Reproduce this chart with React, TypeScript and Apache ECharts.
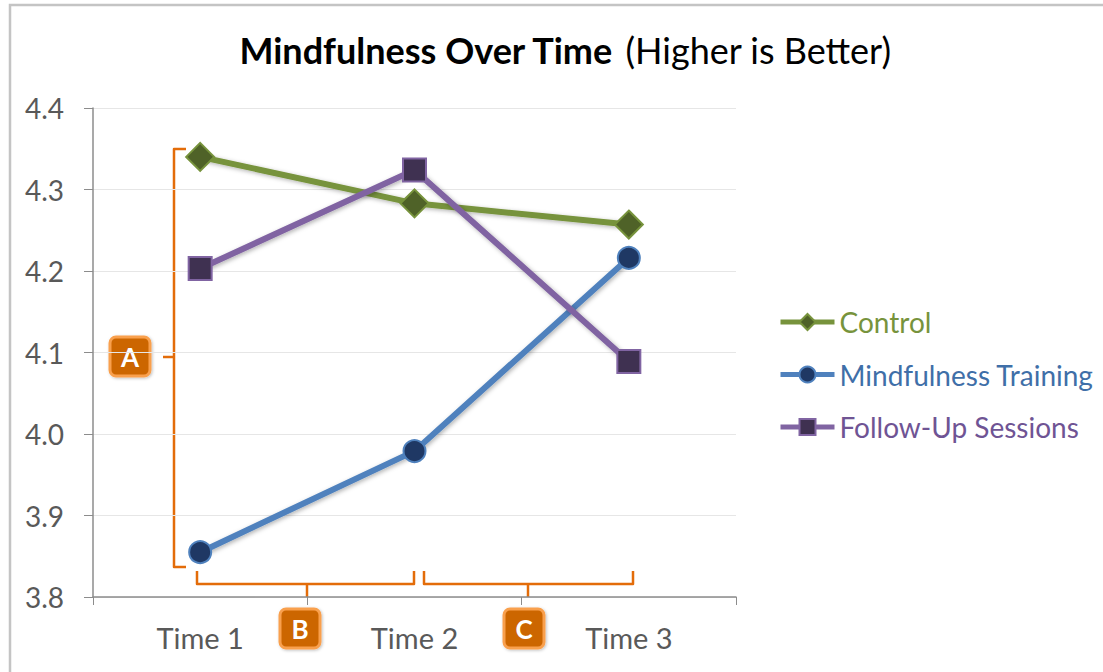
import React, { useEffect, useRef } from "react";
import * as echarts from "echarts";

const categories = ["Time 1", "Time 2", "Time 3"];
const controlValues = [4.34, 4.283, 4.257];
const trainingValues = [3.855, 3.979, 4.216];
const followUpValues = [4.203, 4.324, 4.089];
const yTicks = { min: 3.8, max: 4.4, interval: 0.1 };

const FONT = "Lato, 'Noto Sans', sans-serif";
const ORANGE = "#E36C09";

function badge(x: number, y: number, label: string) {
  return {
    type: "group",
    x,
    y,
    children: [
      {
        type: "rect",
        shape: { x: 0, y: 0, width: 40, height: 39, r: 6 },
        style: { fill: "#CC6600", stroke: "#F9A04E", lineWidth: 3, shadowBlur: 3, shadowColor: "rgba(0,0,0,0.25)", shadowOffsetX: 1, shadowOffsetY: 1 },
      },
      {
        type: "text",
        x: 20,
        y: 20,
        style: { text: label, fill: "#fff", font: `bold 26px ${FONT}`, align: "center", verticalAlign: "middle" },
      },
    ],
  };
}

function bracket(points: number[][]) {
  return {
    type: "polyline",
    shape: { points },
    style: { stroke: ORANGE, lineWidth: 2.5, fill: null, lineJoin: "round" },
  };
}

export default function App() {
  const ref = useRef<HTMLDivElement>(null);
  useEffect(() => {
    document.body.style.margin = "0";
    const chart = echarts.init(ref.current!, null, { renderer: "svg" });
    const shadow = { shadowColor: "rgba(0,0,0,0.3)", shadowBlur: 4, shadowOffsetX: 1.5, shadowOffsetY: 1.5 };
    const mk = (name: string, data: number[], line: string, fill: string, symbol: string, size: number) => ({
      name,
      type: "line",
      data,
      symbol,
      symbolSize: size,
      lineStyle: { color: line, width: 6, ...shadow },
      itemStyle: { color: fill, borderColor: line, borderWidth: 2 },
      emphasis: { disabled: true },
      z: 3,
    });
    chart.setOption({
      animation: false,
      backgroundColor: "#fff",
      grid: { left: 93, top: 108, right: 367, bottom: 75 },
      legend: {
        left: 778,
        top: 307,
        padding: 0,
        orient: "vertical",
        itemWidth: 54,
        itemHeight: 20,
        itemGap: 22.5,
        lineStyle: { width: 5 },
        textStyle: { fontSize: 28, fontFamily: FONT, lineHeight: 30 },
        data: [
          { name: "Control", textStyle: { color: "#77933C" } },
          { name: "Mindfulness Training", textStyle: { color: "#3F6FA8" } },
          { name: "Follow-Up Sessions", textStyle: { color: "#6F5494" } },
        ],
      },
      xAxis: {
        type: "category",
        data: categories,
        boundaryGap: true,
        axisLine: { lineStyle: { color: "#8c8c8c", width: 1.5 } },
        axisTick: { show: true, length: 8, lineStyle: { color: "#8c8c8c" } },
        axisLabel: { color: "#595959", fontSize: 29, fontFamily: FONT, margin: 26 },
      },
      yAxis: {
        type: "value",
        min: yTicks.min,
        max: yTicks.max,
        interval: yTicks.interval,
        axisLine: { show: true, lineStyle: { color: "#8c8c8c", width: 1.5 } },
        axisTick: { show: true, length: 9, lineStyle: { color: "#8c8c8c" } },
        axisLabel: { color: "#595959", fontSize: 28, fontFamily: FONT, margin: 29, formatter: (v: number) => v.toFixed(1) },
        splitLine: { lineStyle: { color: "#e6e6e6", width: 1 } },
      },
      series: [
        mk("Control", controlValues, "#77933C", "#4F6228", "diamond", 28),
        mk("Mindfulness Training", trainingValues, "#4F81BD", "#1F3864", "circle", 22),
        mk("Follow-Up Sessions", followUpValues, "#8064A2", "#3F3151", "rect", 23),
      ],
      graphic: [
        {
          type: "rect",
          shape: { x: 10, y: 5, width: 1200, height: 800 },
          style: { fill: null, stroke: "#c4c4c4", lineWidth: 2.5 },
          silent: true,
        },
        {
          type: "text",
          x: 565,
          y: 50,
          style: {
            text: "{b|Mindfulness Over Time}{n|(Higher is Better)}",
            align: "center",
            verticalAlign: "middle",
            rich: {
              b: { font: `bold 36px ${FONT}`, fill: "#000", padding: [0, 12, 0, 0] },
              n: { font: `36px ${FONT}`, fill: "#000" },
            },
          },
        },
        bracket([[186, 149], [174, 149], [174, 567], [186, 567]]),
        bracket([[174, 357], [163, 357]]),
        bracket([[197, 571], [197, 584], [414, 584], [414, 571]]),
        bracket([[307, 584], [307, 597]]),
        bracket([[424, 571], [424, 584], [633, 584], [633, 571]]),
        bracket([[528, 584], [528, 597]]),
        badge(110, 337, "A"),
        badge(280, 609, "B"),
        badge(504, 609, "C"),
      ],
    });
    return () => chart.dispose();
  }, []);
  return <div ref={ref} style={{ width: 1103, height: 672 }} />;
}
